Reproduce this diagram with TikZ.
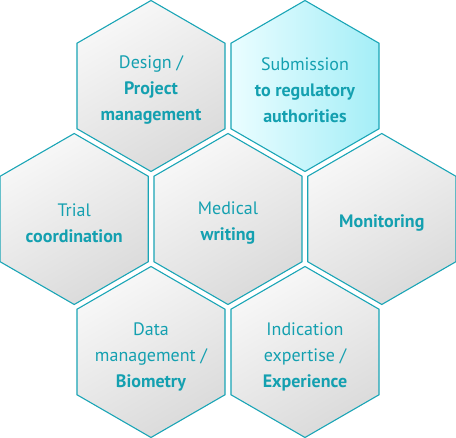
\documentclass[tikz,border=0pt]{standalone}
\usepackage{fontspec}
\setmainfont{PT Sans}
\usepackage{tikz}
\usetikzlibrary{shapes.geometric}
\definecolor{hexline}{HTML}{1AA5B6}
\definecolor{hextext}{HTML}{14A0B0}
\definecolor{greylight}{HTML}{F8F8F8}
\definecolor{greydark}{HTML}{DADADA}
\definecolor{cyanlight}{HTML}{EAFDFF}
\definecolor{cyandark}{HTML}{A4EEF7}

\begin{document}
\begin{tikzpicture}[x=1pt,y=1pt,
  hexcell/.style={regular polygon,regular polygon sides=6,shape border rotate=30,
    minimum size=171pt,inner sep=0pt,draw=hexline,line width=1.1pt,
    left color=greylight,right color=greydark,shading angle=30},
  hexcyan/.style={hexcell,left color=cyanlight,right color=cyandark},
  hexlabel/.style={text=hextext,align=center,yshift=-4.5pt,
    font=\fontsize{18}{26}\selectfont}]
\useasboundingbox (0,0) rectangle (456,438);
% top row
\node[hexcell] (design) at (151,352) {};
\node[hexcyan] (submission) at (305,352) {};
% middle row
\node[hexcell] (trial) at (74.2,219) {};
\node[hexcell] (medical) at (228,219) {};
\node[hexcell] (monitoring) at (381.8,219) {};
% bottom row
\node[hexcell] (data) at (151,86) {};
\node[hexcell] (indication) at (305,86) {};
% labels
\node[hexlabel] (designtxt) at (design) {Design /\\\textbf{Project}\\\textbf{management}};
\node[hexlabel] (submissiontxt) at (submission) {Submission\\\textbf{to regulatory}\\\textbf{authorities}};
\node[hexlabel] (trialtxt) at (trial) {Trial\\\textbf{coordination}};
\node[hexlabel] (medicaltxt) at (medical) {Medical\\\textbf{writing}};
\node[hexlabel] (monitoringtxt) at (monitoring) {\textbf{Monitoring}};
\node[hexlabel] (datatxt) at (data) {Data\\management /\\\textbf{Biometry}};
\node[hexlabel] (indicationtxt) at (indication) {Indication\\expertise /\\\textbf{Experience}};
\end{tikzpicture}
\end{document}
